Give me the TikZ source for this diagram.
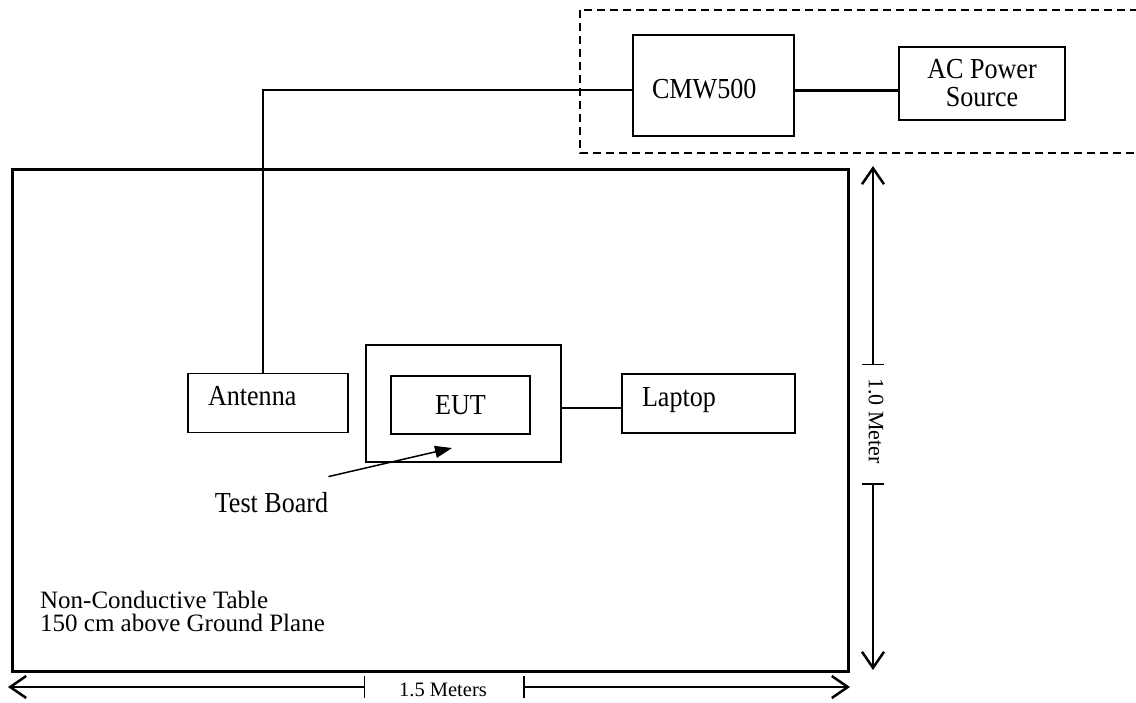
\documentclass[tikz,border=0pt]{standalone}
\usepackage{fontspec}
\setmainfont{Liberation Serif}
\newfontfamily\labelfont[FakeStretch=0.9]{Liberation Serif}
\usepackage{tikz}
\usetikzlibrary{positioning,arrows.meta,calc}

\begin{document}
\begin{tikzpicture}[
  x=1pt, y=-1pt,
  every node/.style={font=\labelfont\fontsize{29}{28}\selectfont, inner sep=0pt},
  unit/.style={rectangle, draw, line width=1.5pt, align=center},
  tag/.style={unit, align=left, inner xsep=20pt, text height=18pt, text depth=13pt},
  wire/.style={line width=1.5pt},
  power/.style={line width=3pt},
  small/.style={font=\fontsize{20.5}{22}\selectfont},
  dimline/.style={line width=1.5pt},
  barb/.tip={Straight Barb[length=16pt,width=22pt,line width=2.5pt]},
  tick/.tip={Bar[width=22pt]},
  pointer/.style={line width=1.5pt, -{Triangle[length=17pt,width=12pt]}}
]
  \useasboundingbox (0,0) rectangle (1136,702);

  \draw[line width=1.5pt, dash pattern=on 8pt off 5pt] (580,10) rectangle (1145,153);
  \node[draw, line width=3pt, minimum width=836pt, minimum height=502pt] (table) at (430,420) {};

  \node[tag, inner xsep=19pt, text width=123pt, minimum width=161pt, minimum height=101pt,
        text height=25pt, text depth=0pt] (cmw) at (713.5,85.5) {CMW500};
  \node[unit, minimum width=166pt, minimum height=73pt] (ac) at (982,83.5) {AC Power\\Source};

  \node[tag, text width=120pt, minimum width=160pt, minimum height=59pt] (ant) at (268,403) {Antenna};
  \node[unit, minimum width=195pt, minimum height=117pt] (board) at (463.5,403.5) {};
  \node[unit, minimum width=139pt, minimum height=58pt] (eut) at (460.5,405) {EUT};
  \node[tag, text width=133pt, minimum width=173pt, minimum height=59pt] (laptop) at (708.5,403.5) {Laptop};

  \node (tblabel) at (271.5,503) {Test Board};
  \node[font=\fontsize{25}{23}\selectfont, anchor=north west, align=left] (tabletext) at (40,590.5)
    {Non-Conductive Table\\150 cm above Ground Plane};

  \coordinate (bend) at (263,90);
  \coordinate (link) at (0,408);
  \coordinate (tip) at (452,448);
  \draw[wire] (ant.north -| bend) -- (bend) -- (bend -| cmw.west);
  \draw[power] (bend -| cmw.east) -- (bend -| ac.west);
  \draw[wire] (board.east |- link) -- (laptop.west |- link);
  \draw[pointer] ([yshift=16pt]tblabel.north east) -- (tip);

  \coordinate (hl) at (8,687);
  \coordinate (ht1) at (365,687);
  \coordinate (ht2) at (523,687);
  \coordinate (hr) at (850,687);
  \node[small] (hlabel) at (443,690) {1.5 Meters};
  \draw[dimline, barb-tick] (hl) -- (ht1);
  \draw[dimline, tick-barb] (ht2) -- (hr);

  \coordinate (vt) at (873,166);
  \coordinate (vt1) at (873,365);
  \coordinate (vt2) at (873,483);
  \coordinate (vb) at (873,670);
  \node[small, font=\fontsize{22}{24}\selectfont, rotate=-90] (vlabel) at (876,421) {1.0 Meter};
  \draw[dimline, barb-tick] (vt) -- (vt1);
  \draw[dimline, tick-barb] (vt2) -- (vb);
\end{tikzpicture}
\end{document}
